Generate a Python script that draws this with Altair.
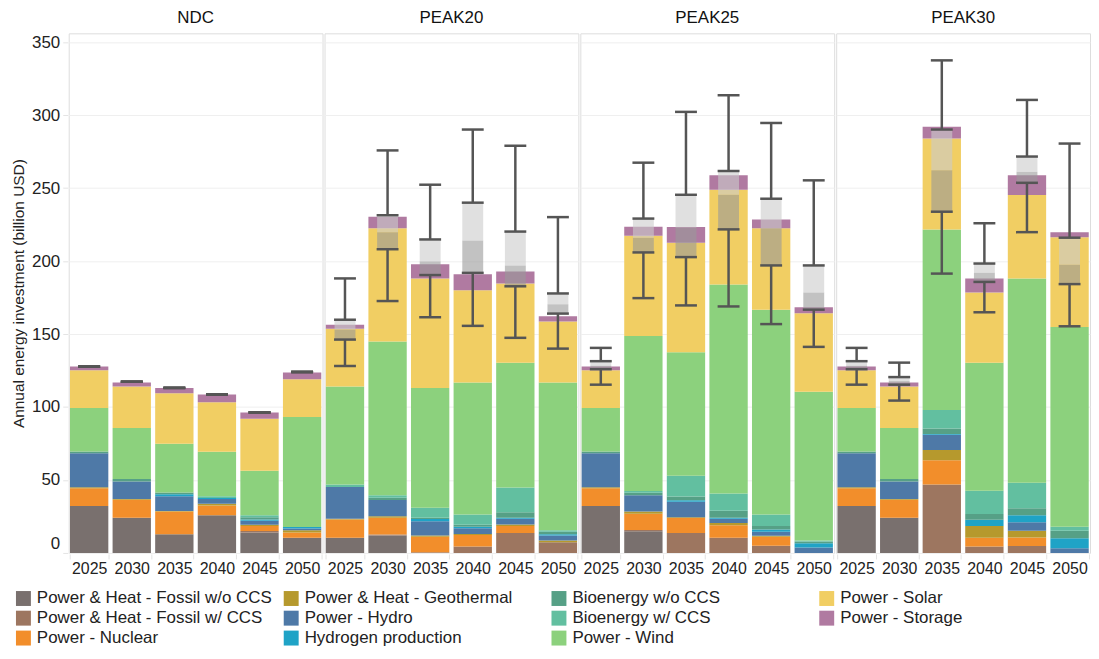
import altair as alt
import pandas as pd

scenarios = ["NDC", "PEAK20", "PEAK25", "PEAK30"]
years = ["2025", "2030", "2035", "2040", "2045", "2050"]

# stack order (bottom -> top)
categories = [
    "Power & Heat - Fossil w/o CCS",
    "Power & Heat - Fossil w/ CCS",
    "Power - Nuclear",
    "Power & Heat - Geothermal",
    "Power - Hydro",
    "Hydrogen production",
    "Bioenergy w/o CCS",
    "Bioenergy w/ CCS",
    "Power - Wind",
    "Power - Solar",
    "Power - Storage",
]
cat_colors = [
    "#79706e", "#9d7660", "#f28e2b", "#b6992d", "#4e79a7", "#1fa3c6",
    "#56a086", "#62bfa0", "#8cd17d", "#f1ce63", "#b07aa1",
]

# values: NDC (6 years), PEAK20 (6), PEAK25 (6), PEAK30 (6) -- billion USD
fossil_wo = [32.1, 24.2, 12.8, 25.9, 14.1, 10.4,
             10.4, 11.9, 0, 0, 0, 0,
             32.1, 14.8, 0, 0, 0, 0,
             32.1, 24.2, 0, 0, 0, 0]
fossil_w = [0, 0, 0, 0, 1.0, 0,
            0, 0.7, 0.5, 4.4, 13.6, 7.4,
            0, 1.0, 13.6, 10.4, 4.9, 0,
            0, 0, 46.9, 4.4, 4.7, 0]
nuclear = [12.3, 12.3, 15.6, 6.7, 3.4, 3.7,
           12.6, 11.6, 10.6, 7.9, 4.9, 0,
           12.3, 11.1, 10.4, 8.6, 6.2, 0,
           12.3, 12.3, 16.6, 6.0, 5.9, 0]
geothermal = [0.6, 0.5, 0.4, 1.2, 0.8, 1.5,
              0.5, 1.0, 0.8, 0.7, 1.0, 1.2,
              0.6, 1.5, 0.5, 1.5, 0.7, 0,
              0.6, 0.5, 7.1, 8.1, 4.7, 0]
hydro = [23.4, 11.9, 10.0, 3.2, 2.7, 1.2,
         21.7, 11.1, 9.8, 4.0, 4.0, 3.3,
         23.4, 11.1, 10.6, 3.0, 2.8, 3.7,
         23.4, 11.9, 10.4, 0, 5.7, 3.2]
hydrogen = [0, 0, 1.4, 0.7, 1.0, 1.0,
            0, 0, 1.5, 1.0, 0.7, 0.9,
            0, 0, 1.0, 0.7, 1.4, 3.0,
            0, 0, 0.5, 4.2, 4.9, 6.9]
bio_wo = [1.2, 1.7, 1.3, 0, 1.5, 0,
          0, 1.5, 1.0, 1.3, 3.7, 1.8,
          1.2, 1.7, 2.5, 4.7, 2.5, 1.2,
          1.2, 1.7, 3.7, 4.0, 4.7, 5.2]
bio_w = [0, 0, 0, 1.1, 1.4, 0,
         1.7, 1.7, 6.7, 7.1, 17.0, 1.0,
         0, 1.3, 14.3, 11.8, 7.9, 0.7,
         0, 0, 12.8, 16.0, 17.5, 2.7]
wind = [29.7, 35.1, 33.3, 30.6, 30.4, 75.3,
        67.2, 105.4, 82.2, 90.4, 85.5, 101.2,
        29.7, 106.1, 84.7, 143.3, 140.3, 101.8,
        29.7, 35.1, 123.7, 87.7, 140.0, 136.8]
solar = [25.9, 28.4, 34.6, 33.8, 35.6, 25.9,
         39.5, 77.6, 75.0, 63.2, 54.3, 41.7,
         25.9, 68.7, 75.0, 64.9, 55.8, 53.8,
         25.9, 28.4, 62.3, 48.1, 57.1, 61.5]
storage = [2.5, 2.7, 3.7, 5.4, 4.4, 4.7,
           2.7, 7.9, 9.7, 10.9, 8.1, 3.7,
           2.5, 6.2, 10.7, 9.9, 5.9, 4.2,
           2.5, 2.7, 8.1, 9.6, 13.6, 3.5]

series = [fossil_wo, fossil_w, nuclear, geothermal, hydro, hydrogen,
          bio_wo, bio_w, wind, solar, storage]

# uncertainty range (whiskers and box) across models
whisker_lo = [127.7, 117.3, 113.1, 108.6, 96.3, 124.0,
              128.1, 172.6, 161.5, 155.6, 147.4, 140.0,
              115.3, 174.6, 169.6, 168.9, 156.8, 141.2,
              115.3, 104.4, 191.4, 164.9, 219.8, 155.3]
box_q1 = [127.7, 117.3, 113.1, 108.6, 96.3, 124.0,
          146.2, 208.1, 190.4, 191.9, 182.7, 164.0,
          125.9, 205.9, 202.7, 221.7, 197.0, 166.7,
          125.9, 115.3, 233.8, 185.7, 253.6, 184.2]
box_med = [127.7, 117.3, 113.1, 108.6, 96.3, 124.0,
           153.1, 219.8, 199.8, 214.1, 197.0, 170.4,
           128.4, 216.0, 223.0, 245.4, 222.5, 178.5,
           128.4, 117.8, 262.2, 192.1, 261.2, 197.5]
box_q3 = [127.7, 117.3, 113.1, 108.6, 96.3, 124.0,
          159.8, 231.4, 214.8, 240.0, 220.2, 177.8,
          131.4, 229.1, 245.4, 261.7, 242.7, 197.0,
          131.4, 120.5, 290.1, 198.3, 271.6, 216.0]
whisker_hi = [127.7, 117.3, 113.1, 108.6, 96.3, 124.0,
              188.1, 275.8, 252.3, 290.1, 279.0, 230.1,
              140.5, 267.4, 302.2, 313.6, 294.6, 255.3,
              140.5, 130.4, 337.5, 225.9, 310.4, 280.5]

rows = []
for ci, cat in enumerate(categories):
    for si, sc in enumerate(scenarios):
        for yi, yr in enumerate(years):
            rows.append({"kind": "bar", "scenario": sc, "year": yr,
                         "category": cat, "order": ci,
                         "value": series[ci][si * 6 + yi]})
for si, sc in enumerate(scenarios):
    for yi, yr in enumerate(years):
        k = si * 6 + yi
        rows.append({"kind": "box", "scenario": sc, "year": yr,
                     "lo": whisker_lo[k], "q1": box_q1[k], "med": box_med[k],
                     "q3": box_q3[k], "hi": whisker_hi[k]})
df = pd.DataFrame(rows)

# legend is filled row-wise with 4 columns -> reorder so it reads column-wise
legend_idx = [0, 3, 6, 9, 1, 4, 7, 10, 2, 5, 8]
legend_domain = [categories[i] for i in legend_idx]
legend_range = [cat_colors[i] for i in legend_idx]

FONT = "Liberation Sans"
YTITLE = "Annual energy investment (billion USD)"
yscale = alt.Scale(domain=[0, 356], nice=False, zero=True)
xscale = alt.Scale(paddingInner=0.1, paddingOuter=0.03)

xenc = alt.X("year:N", title=None, scale=xscale,
             axis=alt.Axis(labelAngle=0, labelFontSize=16, labelColor="#222222",
                           labelFont=FONT, labelPadding=2, domain=False,
                           ticks=True, tickBand="extent", tickColor="#e4e4e4",
                           tickSize=5, grid=False))


def yaxis():
    return alt.Axis(values=[0, 50, 100, 150, 200, 250, 300, 350],
                    labelFontSize=17, labelColor="#222222",
                    labelFont=FONT, labelFlush=True, labelPadding=3,
                    titleFontSize=15.5, titleFont=FONT,
                    titleFontWeight="normal", titleColor="#222222",
                    titlePadding=5, domain=False, ticks=True,
                    tickColor="#e4e4e4", tickSize=5,
                    grid=True, gridColor="#efefef")


def yenc(field):
    return alt.Y(field, title=YTITLE, scale=yscale, axis=yaxis())


base = alt.Chart()

bars = base.transform_filter("datum.kind == 'bar'").mark_bar(strokeWidth=0).encode(
    x=xenc,
    y=alt.Y("value:Q", stack="zero", title=YTITLE, scale=yscale, axis=yaxis()),
    color=alt.Color("category:N",
                    scale=alt.Scale(domain=legend_domain, range=legend_range),
                    legend=alt.Legend(title=None, orient="none", legendX=-54,
                                      legendY=559, columns=4, direction="horizontal",
                                      symbolType="square", symbolSize=225,
                                      symbolStrokeWidth=0, symbolOpacity=1,
                                      labelFontSize=17, labelFont=FONT,
                                      labelColor="#222222", labelLimit=400,
                                      rowPadding=2, columnPadding=10,
                                      gridAlign="all", labelOffset=5)),
    order=alt.Order("order:Q", sort="ascending"),
)

box = base.transform_filter("datum.kind == 'box'")

box_dark = box.mark_bar(size=21, color="#999999", opacity=0.6).encode(
    x=xenc, y=yenc("q1:Q"), y2="med:Q")
box_light = box.mark_bar(size=21, color="#cccccc", opacity=0.6).encode(
    x=xenc, y=yenc("med:Q"), y2="q3:Q")
rule_lo = box.mark_rule(color="#555555", strokeWidth=2.5).encode(
    x=xenc, y=yenc("lo:Q"), y2="q1:Q")
rule_hi = box.mark_rule(color="#555555", strokeWidth=2.5).encode(
    x=xenc, y=yenc("q3:Q"), y2="hi:Q")
caps = box.transform_fold(["lo", "q1", "q3", "hi"], as_=["stat", "v"]).mark_tick(
    color="#555555", thickness=2.5, size=22, orient="horizontal", opacity=1).encode(
    x=xenc, y=yenc("v:Q"))

layered = alt.layer(bars, box_dark, box_light, rule_lo, rule_hi, caps, data=df).properties(
    width=255, height=522)

chart = layered.facet(
    column=alt.Column("scenario:N", title=None, sort=scenarios,
                      header=alt.Header(labelFontSize=17, labelFont=FONT,
                                        labelColor="#111111", labelPadding=5)),
    spacing=0,
).properties(
    padding={"left": 3, "top": 0, "right": 0, "bottom": 0},
).configure_view(
    stroke="#d0d0d0", strokeWidth=1
).configure(font=FONT)

chart.save("out.html", embed_options={"renderer": "svg", "actions": False})
